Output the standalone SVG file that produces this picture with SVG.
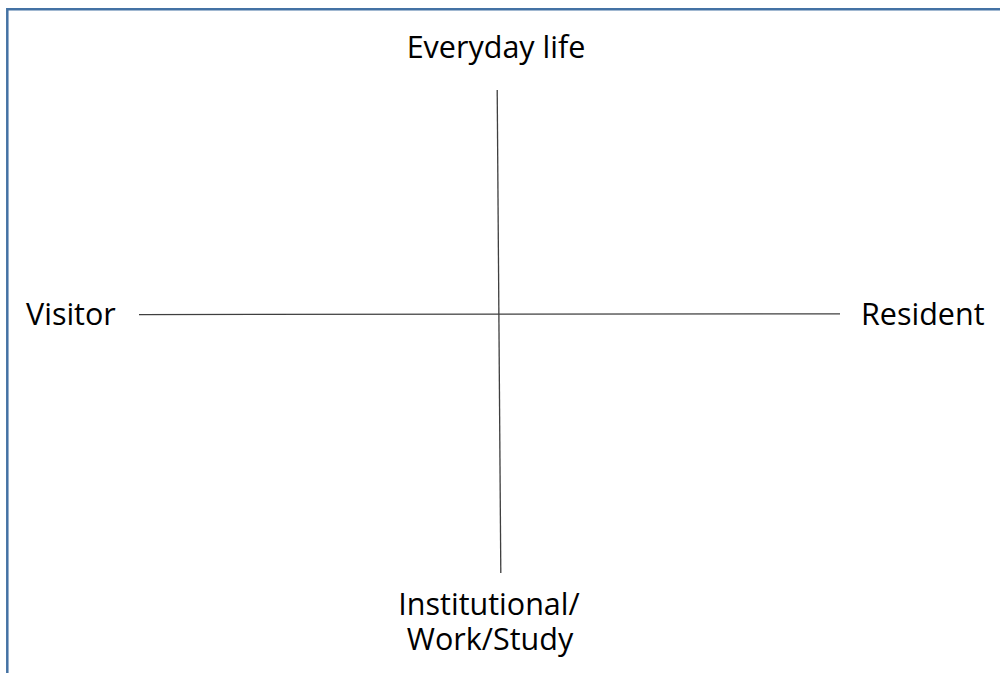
<svg xmlns="http://www.w3.org/2000/svg" width="1000" height="673" viewBox="0 0 1000 673">
  <style>
    .lbl { font-family: "Open Sans", "Noto Sans", "Liberation Sans", sans-serif; font-size: 30.5px; fill: #000000; }
    .axis { stroke: #3f3f3f; stroke-width: 1.3; fill: none; }
    .frame { stroke: #4472a4; stroke-width: 2.5; fill: none; }
  </style>
  <rect width="1000" height="673" fill="#ffffff"/>
  <!-- outer frame: top and left edges only -->
  <path class="frame" d="M7.3 673 V9.3 H1000"/>
  <g id="connectors">
    <line class="axis" x1="139" y1="314.6" x2="840" y2="313.8"/>
    <line class="axis" x1="497.2" y1="90" x2="500.8" y2="573"/>
  </g>
  <g id="everyday-life">
    <text class="lbl" x="496" y="58" text-anchor="middle">Everyday life</text>
  </g>
  <g id="visitor">
    <text class="lbl" x="26" y="325">Visitor</text>
  </g>
  <g id="resident">
    <text class="lbl" x="861" y="325">Resident</text>
  </g>
  <g id="institutional">
    <text class="lbl" text-anchor="middle"><tspan x="489" y="615">Institutional/</tspan><tspan x="490" y="650">Work/Study</tspan></text>
  </g>
</svg>
